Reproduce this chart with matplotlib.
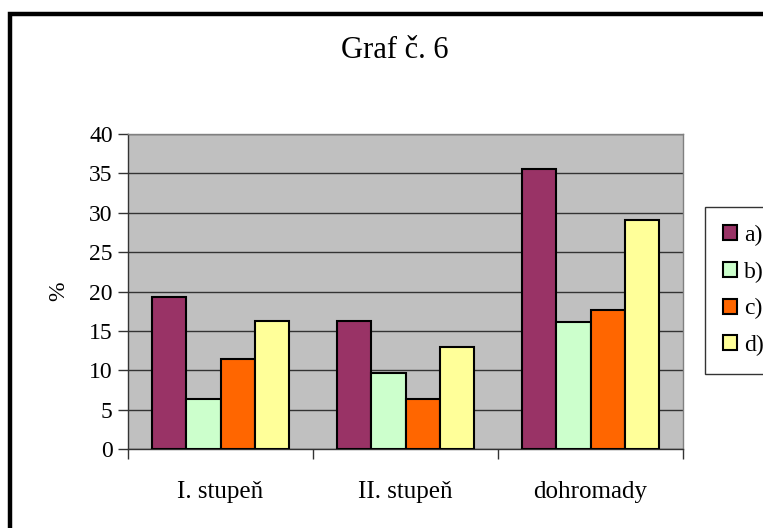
#!/usr/bin/env python
import matplotlib
matplotlib.use("Agg")
import matplotlib.pyplot as plt
import matplotlib.patches as mpatches
import numpy as np

plt.rcParams['font.family'] = ['Liberation Serif', 'DejaVu Serif']

categories = ['I. stupeň', 'II. stupeň', 'dohromady']
series_names = ['a)', 'b)', 'c)', 'd)']
vals_a = [19.3, 16.2, 35.5]
vals_b = [6.3, 9.7, 16.1]
vals_c = [11.4, 6.3, 17.7]
vals_d = [16.2, 12.9, 29.1]
colors = ['#993366', '#CCFFCC', '#FF6600', '#FFFF99']

fig = plt.figure(figsize=(7.63, 5.28), dpi=100)
ax = fig.add_axes([128 / 763, 79 / 528, 555 / 763, 315 / 528])

# outer chart border (runs off the right and bottom edges)
border = mpatches.Rectangle((10 / 763, -0.05), 1.2, 0.05 + 1 - 14 / 528,
                            transform=fig.transFigure, fill=False,
                            edgecolor='black', linewidth=3.2, zorder=10)
fig.patches.append(border)

x = np.arange(len(categories))
w = 0.184
all_vals = [vals_a, vals_b, vals_c, vals_d]
for i, (vals, col, name) in enumerate(zip(all_vals, colors, series_names)):
    ax.bar(x + (i - 1.5) * w, vals, width=w, color=col, edgecolor='black',
           linewidth=1.5, label=name, zorder=3)

ax.set_facecolor('#C0C0C0')
ax.set_xlim(-0.5, 2.5)
ax.set_ylim(0, 40)
ax.set_yticks(range(0, 41, 5))
ax.yaxis.grid(True, color='#333333', linewidth=1.0, zorder=1)
ax.set_axisbelow(True)

ax.set_xticks([-0.5, 0.5, 1.5, 2.5], minor=False)
ax.set_xticklabels([])
ax.set_xticks(x, minor=True)
ax.set_xticklabels(categories, minor=True, fontsize=18)
ax.tick_params(axis='x', which='minor', length=0, pad=23)
ax.tick_params(axis='x', which='major', length=7, width=1, color='#333333', direction='out')
ax.tick_params(axis='y', length=7, width=1, color='#333333', labelsize=17, pad=4)

for side in ['top', 'right']:
    ax.spines[side].set_color('#808080')
    ax.spines[side].set_linewidth(1)
for side in ['left', 'bottom']:
    ax.spines[side].set_color('#333333')
    ax.spines[side].set_linewidth(1)

ax.set_ylabel('%', fontsize=17, labelpad=14)

fig.text(395 / 763, 1 - 50 / 528, 'Graf č. 6', ha='center', va='center', fontsize=22)

leg = ax.legend(loc='upper left', bbox_to_anchor=(705 / 763, 1 - 207 / 528),
                bbox_transform=fig.transFigure, fontsize=17, frameon=True,
                fancybox=False, edgecolor='black', borderpad=0.75,
                labelspacing=0.66, handlelength=0.6, handleheight=0.6,
                handletextpad=0.3, borderaxespad=0)
leg.get_frame().set_linewidth(1)

plt.savefig('out.png', dpi=100)
